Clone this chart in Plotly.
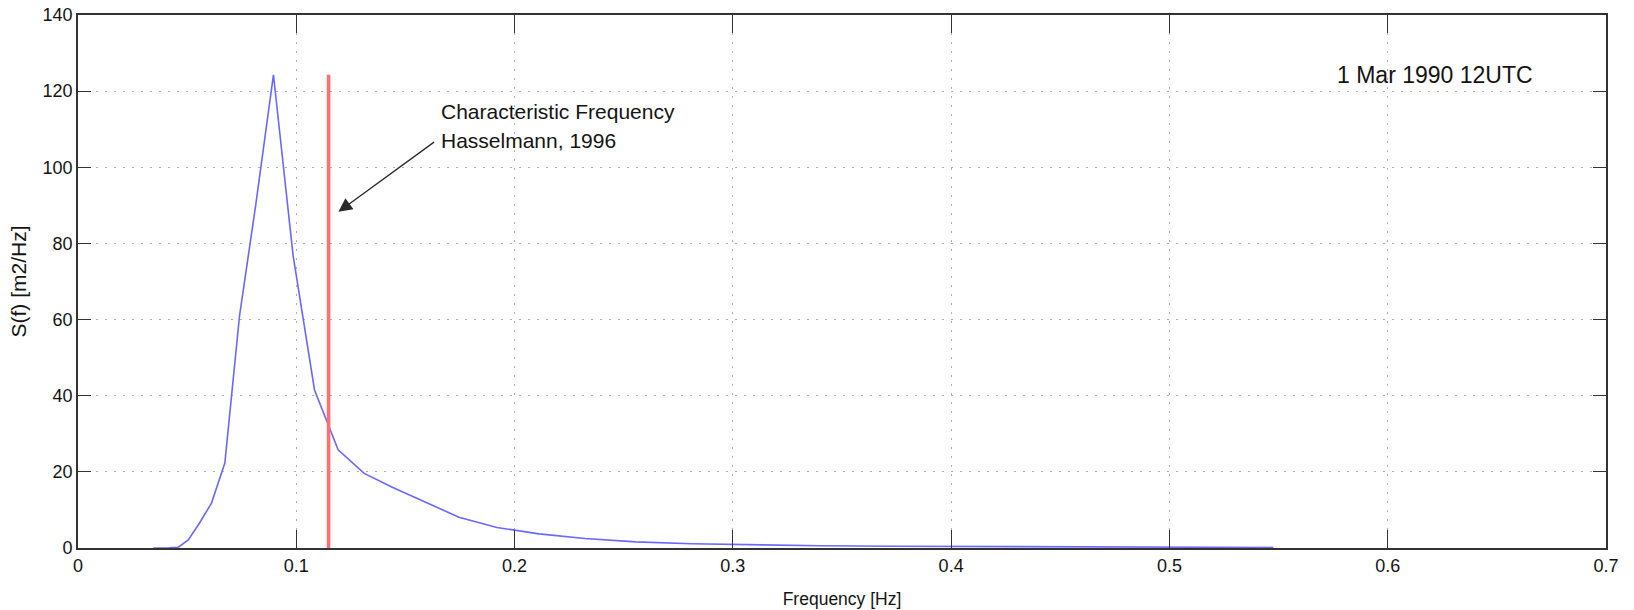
import plotly.graph_objects as go

# Wave energy spectrum, 1 Mar 1990 12UTC
freq_hz = [0.03452, 0.03797, 0.04177, 0.04595, 0.05054, 0.05560, 0.06116,
           0.06727, 0.07400, 0.08140, 0.08954, 0.09850, 0.10835, 0.11918,
           0.13110, 0.14421, 0.15863, 0.17449, 0.19194, 0.21114, 0.23225,
           0.25548, 0.28102, 0.30913, 0.34004, 0.37404, 0.41145, 0.45259,
           0.49785, 0.54764]
spectrum = [0.0, 0.0, 0.05, 0.2, 2.1, 6.5, 11.8,
            22.3, 61.0, 90.0, 124.3, 77.0, 41.5, 25.8,
            19.6, 15.9, 12.2, 8.1, 5.4, 3.7, 2.5,
            1.6, 1.1, 0.8, 0.6, 0.45, 0.35, 0.25,
            0.2, 0.15]

# Characteristic frequency (Hasselmann, 1996) drawn up to the spectral peak
char_freq = 0.1148
char_line_x = [char_freq, char_freq]
char_line_y = [0.0, max(spectrum)]

x_ticks = [0, 0.1, 0.2, 0.3, 0.4, 0.5, 0.6, 0.7]
x_tick_text = ["0", "0.1", "0.2", "0.3", "0.4", "0.5", "0.6", "0.7"]
y_ticks = [0, 20, 40, 60, 80, 100, 120, 140]
y_tick_text = ["0", "20", "40", "60", "80", "100", "120", "140"]

label_line1 = "Characteristic Frequency"
label_line2 = "Hasselmann, 1996"
date_label = "1 Mar 1990 12UTC"

FONT = "Liberation Sans, Arial, Helvetica, sans-serif"
TXT = "#141414"
FRAME = "#333333"

fig = go.Figure()

fig.add_trace(go.Scatter(
    x=freq_hz, y=spectrum, mode="lines",
    line=dict(color="rgb(105,105,255)", width=1.6),
    showlegend=False, hoverinfo="x+y"))

fig.add_trace(go.Scatter(
    x=char_line_x, y=char_line_y, mode="lines",
    line=dict(color="rgb(255,112,112)", width=3.6),
    showlegend=False, hoverinfo="x"))

# arrow pointing at the characteristic-frequency line
fig.add_annotation(
    x=0.1193, y=88.3, ax=0.1638, ay=106.9,
    xref="x", yref="y", axref="x", ayref="y",
    text="", showarrow=True, arrowhead=2, arrowsize=2.1,
    arrowwidth=1.3, arrowcolor="#2a2a2a")

fig.add_annotation(
    x=0.1652, y=(548 - 112) / 3.806, xref="x", yref="y",
    text=label_line1, showarrow=False, xanchor="left", yanchor="middle",
    font=dict(family=FONT, size=21, color=TXT))
fig.add_annotation(
    x=0.1652, y=(548 - 141) / 3.806, xref="x", yref="y",
    text=label_line2, showarrow=False, xanchor="left", yanchor="middle",
    font=dict(family=FONT, size=21, color=TXT))

fig.add_annotation(
    x=0.5757, y=124.3, xref="x", yref="y",
    text=date_label, showarrow=False, xanchor="left", yanchor="middle",
    font=dict(family=FONT, size=23, color=TXT))

axis_common = dict(
    showline=True, linecolor=FRAME, linewidth=1.8, mirror="ticks",
    ticks="inside", tickcolor=FRAME, tickwidth=1.4,
    showgrid=True, gridcolor="#b0b0b0", gridwidth=1, griddash="2px,7px",
    zeroline=False, automargin=False,
    tickfont=dict(family=FONT, size=18, color=TXT),
)

fig.update_xaxes(
    range=[0, 0.7], tickvals=x_ticks, ticktext=x_tick_text, ticklen=18,
    title=dict(text="Frequency [Hz]", font=dict(family=FONT, size=17.5, color=TXT),
               standoff=18),
    **axis_common)
fig.update_yaxes(
    range=[0, 140], tickvals=y_ticks, ticktext=y_tick_text, ticklen=13,
    title=dict(text="S(f) [m2/Hz]", font=dict(family=FONT, size=21, color=TXT),
               standoff=10),
    **axis_common)

fig.update_layout(
    width=1634, height=610,
    margin=dict(l=78, r=28, t=15, b=62),
    paper_bgcolor="white", plot_bgcolor="white",
    showlegend=False,
)

fig.write_html("out.html")
